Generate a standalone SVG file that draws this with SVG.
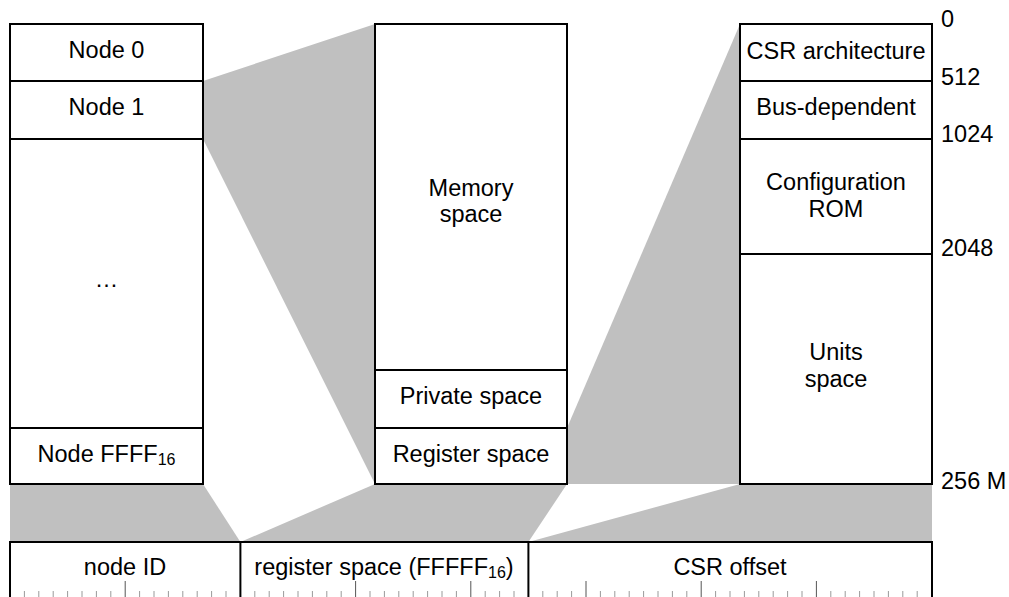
<svg xmlns="http://www.w3.org/2000/svg" width="1009" height="597" viewBox="0 0 1009 597">
  <style>
    text { font-family: "Liberation Sans", Arial, Helvetica, sans-serif; font-size: 23.5px; fill: #000; }
    .c { text-anchor: middle; }
    .sub { font-size: 16px; }
    .cell { fill: #fff; stroke: #000; stroke-width: 2; }
    .map { fill: #c0c0c0; stroke: none; }
    .edge { stroke: #000; stroke-width: 2; fill: none; }
    .tick { stroke: #9a9a9a; stroke-width: 1; }
    .major { stroke: #555; stroke-width: 1; }
  </style>
  <rect width="1009" height="597" fill="#fff"/>

  <!-- shaded mapping regions between the address spaces -->
  <g id="connectors">
    <polygon class="map" points="203,81 375,24 375,484 203,139"/>
    <polygon class="map" points="567,428 740,24 740,484 567,484"/>
    <polygon class="map" points="10,484 203,484 240.4,542 10,542"/>
    <polygon class="map" points="375,484 567,484 528.4,542 240.4,542"/>
    <polygon class="map" points="740,484 932,484 932,542 528.4,542"/>
  </g>

  <!-- node address space -->
  <g id="node0"><rect class="cell" x="10" y="24" width="193" height="57"/><text class="c" x="106.5" y="58">Node 0</text></g>
  <g id="node1"><rect class="cell" x="10" y="81" width="193" height="58"/><text class="c" x="106.5" y="115">Node 1</text></g>
  <g id="nodes-more"><rect class="cell" x="10" y="139" width="193" height="289"/><text class="c" x="106.5" y="287">…</text></g>
  <g id="nodeFFFF"><rect class="cell" x="10" y="428" width="193" height="56"/><text class="c" x="106.5" y="462">Node FFFF<tspan class="sub" dy="3">16</tspan></text></g>

  <!-- per-node address space -->
  <g id="memory-space"><rect class="cell" x="375" y="24" width="192" height="346"/><text class="c" x="471" y="196">Memory</text><text class="c" x="471" y="222">space</text></g>
  <g id="private-space"><rect class="cell" x="375" y="370" width="192" height="58"/><text class="c" x="471" y="404">Private space</text></g>
  <g id="register-space"><rect class="cell" x="375" y="428" width="192" height="56"/><text class="c" x="471" y="462">Register space</text></g>

  <!-- register space layout -->
  <g id="csr-architecture"><rect class="cell" x="740" y="24" width="192" height="57"/><text class="c" x="836" y="59">CSR architecture</text></g>
  <g id="bus-dependent"><rect class="cell" x="740" y="81" width="192" height="58"/><text class="c" x="836" y="115">Bus-dependent</text></g>
  <g id="config-rom"><rect class="cell" x="740" y="139" width="192" height="115"/><text class="c" x="836" y="190">Configuration</text><text class="c" x="836" y="217">ROM</text></g>
  <g id="units-space"><rect class="cell" x="740" y="254" width="192" height="230"/><text class="c" x="836" y="360">Units</text><text class="c" x="836" y="387">space</text></g>

  <!-- offsets -->
  <g id="offsets">
    <text x="941" y="27">0</text>
    <text x="941" y="85">512</text>
    <text x="941" y="142">1024</text>
    <text x="941" y="256">2048</text>
    <text x="941" y="489">256 M</text>
  </g>

  <!-- 64-bit address fields -->
  <g id="address-fields">
    <line class="edge" x1="9" y1="542" x2="933" y2="542"/>
    <line class="edge" x1="10" y1="541" x2="10" y2="597"/>
    <line class="edge" x1="240.4" y1="542" x2="240.4" y2="597"/>
    <line class="edge" x1="528.4" y1="542" x2="528.4" y2="597"/>
    <line class="edge" x1="932" y1="541" x2="932" y2="597"/>
    <text class="c" x="125" y="575">node ID</text>
    <text class="c" x="384" y="575">register space (FFFFF<tspan class="sub" dy="3">16</tspan><tspan dy="-3">)</tspan></text>
    <text class="c" x="730" y="575">CSR offset</text>
  </g>

  <!-- bit ruler: one tick per bit, longer tick every byte -->
  <g id="ruler">
    <path class="tick" d="M24.4,591V597M38.8,591V597M53.2,591V597M67.6,591V597M82,591V597M96.4,591V597M110.8,591V597
      M139.6,591V597M154,591V597M168.4,591V597M182.8,591V597M197.2,591V597M211.6,591V597M226,591V597
      M254.8,591V597M269.2,591V597M283.6,591V597M298,591V597M312.4,591V597M326.8,591V597M341.2,591V597
      M370,591V597M384.4,591V597M398.8,591V597M413.2,591V597M427.6,591V597M442,591V597M456.4,591V597
      M485.2,591V597M499.6,591V597M514,591V597
      M542.8,591V597M557.2,591V597M571.6,591V597
      M600.4,591V597M614.8,591V597M629.2,591V597M643.6,591V597M658,591V597M672.4,591V597M686.8,591V597
      M715.6,591V597M730,591V597M744.4,591V597M758.8,591V597M773.2,591V597M787.6,591V597M802,591V597
      M830.8,591V597M845.2,591V597M859.6,591V597M874,591V597M888.4,591V597M902.8,591V597M917.2,591V597"/>
    <path class="major" d="M125.2,581V597M355.6,581V597M470.8,581V597M586,581V597M701.2,581V597M816.4,581V597"/>
  </g>
</svg>
